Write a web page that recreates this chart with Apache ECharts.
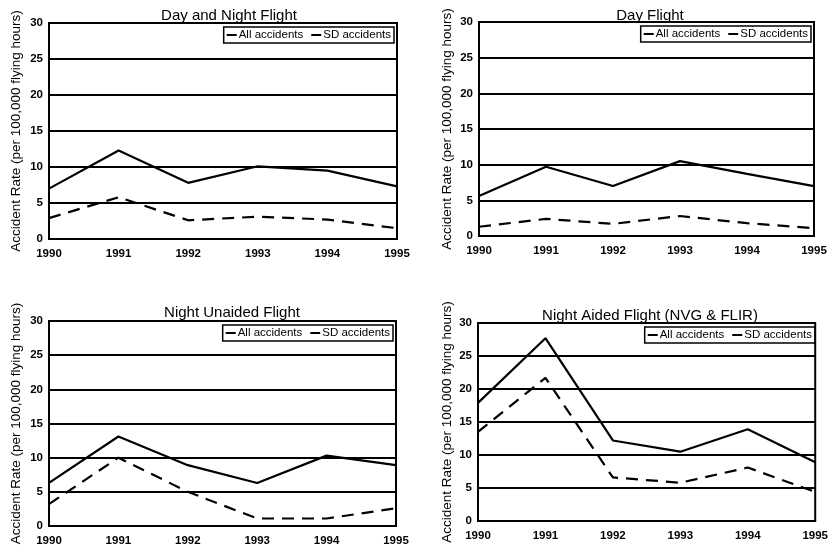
<!DOCTYPE html>
<html>
<head>
<meta charset="utf-8">
<script src="https://cdn.jsdelivr.net/npm/echarts@6/dist/echarts.min.js"></script>
<style>html,body{margin:0;padding:0;background:#fff;}#c{width:831px;height:556px;}</style>
</head>
<body>
<div id="c"></div>
<script>
const years = ['1990','1991','1992','1993','1994','1995'];
const panelTitles = ['Day and Night Flight','Day Flight','Night Unaided Flight','Night Aided Flight (NVG & FLIR)'];
const seriesNames = ['All accidents','SD accidents'];
const yAxisName = 'Accident Rate (per 100,000 flying hours)';
const yTicks = [0,5,10,15,20,25,30];

const dayNightAll = [7.0, 12.3, 7.8, 10.1, 9.5, 7.3];
const dayNightSD  = [2.9, 5.8, 2.6, 3.1, 2.7, 1.5];
const dayAll      = [5.6, 9.7, 7.0, 10.5, 8.7, 7.0];
const daySD       = [1.3, 2.4, 1.7, 2.8, 1.8, 1.1];
const unaidedAll  = [6.3, 13.1, 8.9, 6.3, 10.3, 8.9];
const unaidedSD   = [3.2, 10.0, 5.0, 1.1, 1.1, 2.6];
const aidedAll    = [17.9, 27.7, 12.2, 10.5, 13.9, 8.9];
const aidedSD     = [13.5, 21.7, 6.6, 5.8, 8.1, 4.4];

const panelData = [[dayNightAll, dayNightSD],[dayAll, daySD],[unaidedAll, unaidedSD],[aidedAll, aidedSD]];

const grids = [
  {left:49, top:23, width:348, height:216},
  {left:479, top:22, width:335, height:214},
  {left:49, top:321, width:347, height:205},
  {left:478, top:323, width:340, height:198}
];
const titlePos = [{x:224,y:3},{x:645,y:3},{x:227,y:300},{x:645,y:303}];
const nameGaps = [26, 25, 26, 24];
const FONT = 'Liberation Sans, Arial, sans-serif';

const option = {
  animation:false,
  backgroundColor:'#fff',
  title: panelTitles.map((t,i)=>({
    text:t, left:titlePos[i].x, top:titlePos[i].y, textAlign:'center',
    textStyle:{fontFamily:FONT, fontSize:15, fontWeight:'normal', color:'#000'}
  })),
  legend: grids.map((g,i)=>({
    data: seriesNames.map(n=>({name:n, icon:'rect'})),
    right: 831 - (g.left + g.width) + 3,
    top: g.top + 4,
    orient:'horizontal',
    itemWidth:10, itemHeight:2, itemGap:8,
    borderColor:'#000', borderWidth:1.5, padding:[2,3],
    textStyle:{fontFamily:FONT, fontSize:11.5, color:'#000', padding:[0,0,0,-3]},
    selectedMode:false
  })),
  grid: grids.map(g=>({left:g.left, top:g.top, width:g.width, height:g.height, show:true, borderColor:'#000', borderWidth:2, containLabel:false})),
  xAxis: grids.map((g,i)=>({
    type:'category', gridIndex:i, data:years, boundaryGap:false,
    axisLine:{lineStyle:{color:'#000', width:2}},
    axisTick:{show:false},
    axisLabel:{color:'#000', fontFamily:FONT, fontSize:11.5, fontWeight:'bold', margin:9, interval:0}
  })),
  yAxis: grids.map((g,i)=>({
    type:'value', gridIndex:i, min:yTicks[0], max:yTicks[yTicks.length-1], interval:5,
    name:yAxisName, nameLocation:'middle', nameGap:nameGaps[i],
    nameTextStyle:{fontFamily:FONT, fontSize:13.5, color:'#000'},
    axisLine:{show:true, lineStyle:{color:'#000', width:2}},
    axisTick:{show:false},
    axisLabel:{color:'#000', fontFamily:FONT, fontSize:11.5, fontWeight:'bold', margin:6},
    splitLine:{show:true, lineStyle:{color:'#000', width:2}}
  })),
  series: []
};
panelData.forEach((pair,i)=>{
  option.series.push({name:seriesNames[0], type:'line', xAxisIndex:i, yAxisIndex:i, data:pair[0], showSymbol:false, symbol:'none',
    lineStyle:{color:'#000', width:2.2, type:'solid'}, itemStyle:{color:'#000'}});
  option.series.push({name:seriesNames[1], type:'line', xAxisIndex:i, yAxisIndex:i, data:pair[1], showSymbol:false, symbol:'none',
    lineStyle:{color:'#000', width:2.2, type:[12,8]}, itemStyle:{color:'#000'}});
});
const chart = echarts.init(document.getElementById('c'), null, {renderer:'canvas'});
chart.setOption(option);
</script>
</body>
</html>
